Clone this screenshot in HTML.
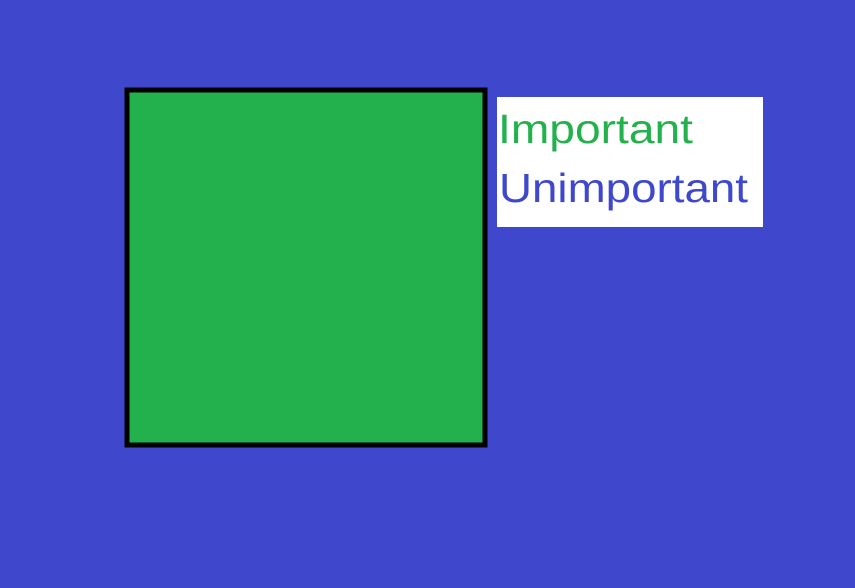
<!DOCTYPE html>
<html><head><meta charset="utf-8"><style>
html,body{margin:0;padding:0;width:855px;height:588px;overflow:hidden;background:#3F48CC}
</style></head><body>
<svg width="855" height="588" viewBox="0 0 855 588">
<rect x="0" y="0" width="855" height="588" fill="#3F48CC"/>
<g id="marks"></g>
<rect x="497" y="97" width="266" height="130" fill="#ffffff"/>
<text x="498" y="143" font-family="Liberation Sans, sans-serif" font-size="41" fill="#22B14C" textLength="195" lengthAdjust="spacingAndGlyphs">Important</text>
<text x="499" y="202" font-family="Liberation Sans, sans-serif" font-size="41" fill="#3F48CC" textLength="249" lengthAdjust="spacingAndGlyphs">Unimportant</text>
</svg>
<script>
const categories = ["Important"];
const values = [1];
const maxValue = 1;
const g = document.getElementById('marks');
const x0 = 127, y0 = 90, side = 355;
categories.forEach((c, i) => {
  const s = side * Math.sqrt(values[i] / maxValue);
  const r = document.createElementNS('http://www.w3.org/2000/svg', 'rect');
  r.setAttribute('x', x0);
  r.setAttribute('y', y0);
  r.setAttribute('width', s + 3);
  r.setAttribute('height', s);
  r.setAttribute('fill', '#22B14C');
  r.setAttribute('stroke', '#000');
  r.setAttribute('stroke-width', '5');
  
  
  g.appendChild(r);
});
</script>
</body></html>
